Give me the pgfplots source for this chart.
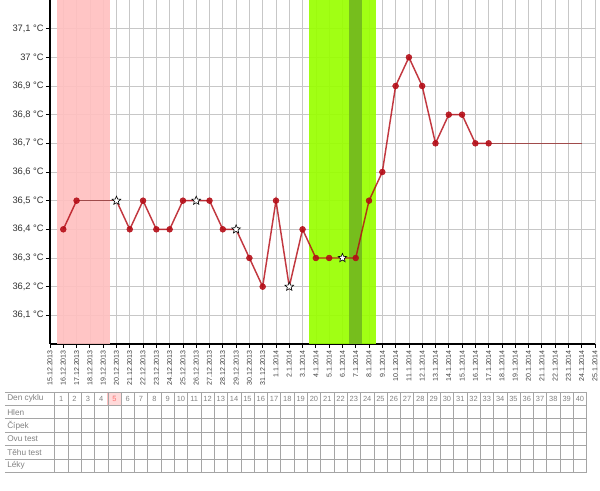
\documentclass[border=0pt]{standalone}
\usepackage{pgfplots}
\pgfplotsset{compat=1.18}
\usepackage{fontspec}
\setmainfont{Liberation Sans}
\definecolor{pinkband}{RGB}{255,192,192}
\definecolor{greenband}{RGB}{153,255,0}
\definecolor{dgreenband}{RGB}{115,185,30}
\definecolor{redline}{RGB}{180,12,22}
\definecolor{thinline}{RGB}{160,75,75}
\definecolor{tabline}{RGB}{165,165,165}
\definecolor{tabtext}{RGB}{130,130,130}
\pgfdeclareplotmark{wstar}{%
  \pgfpathmoveto{\pgfpointpolar{90}{\pgfplotmarksize}}%
  \pgfpathlineto{\pgfpointpolar{126}{0.45\pgfplotmarksize}}%
  \pgfpathlineto{\pgfpointpolar{162}{\pgfplotmarksize}}%
  \pgfpathlineto{\pgfpointpolar{198}{0.45\pgfplotmarksize}}%
  \pgfpathlineto{\pgfpointpolar{234}{\pgfplotmarksize}}%
  \pgfpathlineto{\pgfpointpolar{270}{0.45\pgfplotmarksize}}%
  \pgfpathlineto{\pgfpointpolar{306}{\pgfplotmarksize}}%
  \pgfpathlineto{\pgfpointpolar{342}{0.45\pgfplotmarksize}}%
  \pgfpathlineto{\pgfpointpolar{18}{\pgfplotmarksize}}%
  \pgfpathlineto{\pgfpointpolar{54}{0.45\pgfplotmarksize}}%
  \pgfpathclose
  \pgfusepathqfillstroke
}
\begin{document}
\begin{tikzpicture}
\useasboundingbox (-37.5pt,-110.25pt) rectangle (412.5pt,258pt);
\begin{axis}[
  scale only axis, width=408.75pt, height=258pt,
  xmin=0, xmax=41, ymin=36, ymax=37.2,
  axis x line*=bottom, axis y line*=left,
  axis line style={black, line width=0.8pt, -},
  xtick={0,...,41},
  xticklabels={15.12.2013,16.12.2013,17.12.2013,18.12.2013,19.12.2013,20.12.2013,21.12.2013,22.12.2013,23.12.2013,24.12.2013,25.12.2013,26.12.2013,27.12.2013,28.12.2013,29.12.2013,30.12.2013,31.12.2013,1.1.2014,2.1.2014,3.1.2014,4.1.2014,5.1.2014,6.1.2014,7.1.2014,8.1.2014,9.1.2014,10.1.2014,11.1.2014,12.1.2014,13.1.2014,14.1.2014,15.1.2014,16.1.2014,17.1.2014,18.1.2014,19.1.2014,20.1.2014,21.1.2014,22.1.2014,23.1.2014,24.1.2014,25.1.2014},
  ytick={36.1,36.2,36.3,36.4,36.5,36.6,36.7,36.8,36.9,37.0,37.1},
  yticklabels={{36,1 °C},{36,2 °C},{36,3 °C},{36,4 °C},{36,5 °C},{36,6 °C},{36,7 °C},{36,8 °C},{36,9 °C},{37 °C},{37,1 °C}},
  grid=major, major grid style={black!22, line width=0.5pt},
  tick align=outside, major tick length=3pt, tick style={black, line width=0.6pt},
  xticklabel style={rotate=90, anchor=east, font=\fontsize{5.3}{6}\selectfont, text=black!75, inner sep=1.5pt},
  yticklabel style={font=\fontsize{7}{8}\selectfont, text=black!80, inner sep=1.5pt},
]
\addplot[draw=none, fill=pinkband, fill opacity=0.92, forget plot] coordinates {(0.5,36) (0.5,37.2) (4.5,37.2) (4.5,36)};
\addplot[draw=none, fill=greenband, fill opacity=0.92, forget plot] coordinates {(19.5,36) (19.5,37.2) (24.5,37.2) (24.5,36)};
\addplot[draw=none, fill=dgreenband, fill opacity=0.92, forget plot] coordinates {(22.5,36) (22.5,37.2) (23.5,37.2) (23.5,36)};
% thin connectors over missing days
\addplot[thinline, line width=0.5pt, forget plot] coordinates {(2,36.5) (5,36.5)};
\addplot[thinline, line width=0.5pt, forget plot] coordinates {(33,36.7) (40,36.7)};
% main temperature lines
\addplot[redline, line width=1.1pt, opacity=0.82, forget plot] coordinates {(1,36.4) (2,36.5)};
\addplot[redline, line width=1.1pt, opacity=0.82, forget plot] coordinates {
(5,36.5) (6,36.4) (7,36.5) (8,36.4) (9,36.4) (10,36.5) (11,36.5) (12,36.5) (13,36.4) (14,36.4)
(15,36.3) (16,36.2) (17,36.5) (18,36.2) (19,36.4) (20,36.3) (21,36.3) (22,36.3) (23,36.3) (24,36.5)
(25,36.6) (26,36.9) (27,37.0) (28,36.9) (29,36.7) (30,36.8) (31,36.8) (32,36.7) (33,36.7)};
% dots
\addplot[only marks, mark=*, mark size=2.2pt, mark options={fill=redline, draw=redline, opacity=0.88}, forget plot] coordinates {
(1,36.4) (2,36.5) (6,36.4) (7,36.5) (8,36.4) (9,36.4) (10,36.5) (12,36.5) (13,36.4)
(15,36.3) (16,36.2) (17,36.5) (19,36.4) (20,36.3) (21,36.3) (23,36.3) (24,36.5)
(25,36.6) (26,36.9) (27,37.0) (28,36.9) (29,36.7) (30,36.8) (31,36.8) (32,36.7) (33,36.7)};
% stars
\addplot[only marks, mark=wstar, mark size=3.4pt, mark options={fill=white, draw=black, line width=0.45pt}, forget plot] coordinates {
(5,36.5) (11,36.5) (14,36.4) (18,36.2) (22,36.3)};
\end{axis}
% table below the chart (pixel coordinates from image top-left)
\begin{scope}[shift={(-37.5pt,258pt)}, x=0.75pt, y=-0.75pt]
\fill[pinkband!60] ({54.6+13.3*4},392) rectangle ({54.6+13.3*5},405.4);
\draw[pinkband, line width=0.5pt] ({54.6+13.3*4},392) rectangle ({54.6+13.3*5},405.4);
\foreach \y in {392,405.4,418.8,432.2,445.6,459,472.4}
  \draw[tabline, line width=0.45pt] (5,\y) -- (587,\y);
\foreach \i in {0,...,40}
  \draw[tabline, line width=0.45pt] ({54.6+13.3*\i},392) -- ({54.6+13.3*\i},472.4);
\foreach \i in {1,...,40}
  \node[font=\fontsize{5.6}{6}\selectfont, text=tabtext, inner sep=0pt] at ({54.6+13.3*(\i-0.5)},398.7) {\i};
\node[font=\fontsize{5.6}{6}\selectfont, text=red!55, inner sep=0pt, fill=pinkband!60] at ({54.6+13.3*4.5},398.7) {5};
\foreach \t [count=\k from 0] in {Den cyklu,Hlen,Čípek,Ovu test,Těhu test,Léky}
  \node[anchor=west, font=\fontsize{6.2}{7}\selectfont, text=tabtext, inner sep=0pt] at (7,{398.7+13.4*\k}) {\t};
\end{scope}
\end{tikzpicture}
\end{document}
